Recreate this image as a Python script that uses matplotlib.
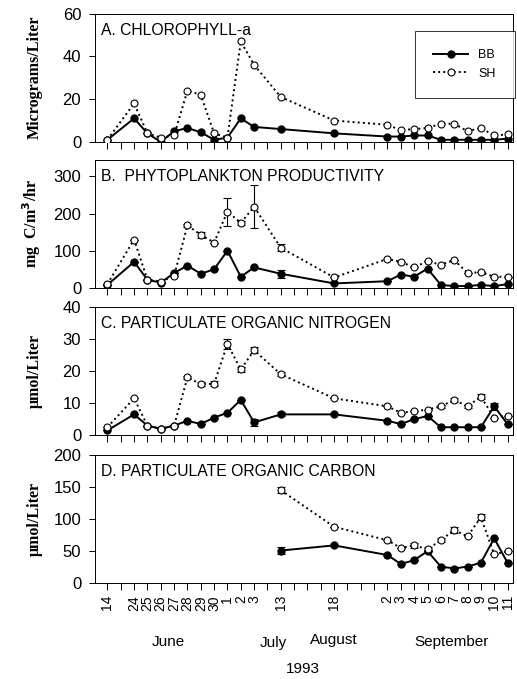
import numpy as np
import matplotlib
matplotlib.use("Agg")
import matplotlib.pyplot as plt

# sampling dates, placed on an evenly spaced (broken) time axis
date_labels = ["14", "24", "25", "26", "27", "28", "29", "30", "1", "2", "3",
               "13", "18", "2", "3", "4", "5", "6", "7", "8", "9", "10", "11"]
slot = [0, 2, 3, 4, 5, 6, 7, 8, 9, 10, 11, 13, 17,
        21, 22, 23, 24, 25, 26, 27, 28, 29, 30]
n_slots = 31

# A. chlorophyll-a
chl_bb = [1, 11, 4, 0, 5, 6.5, 4.5, 1, 2, 11, 7, 6, 4,
          2.5, 2.5, 3, 3, 1, 1, 1, 1, 1, 1.5]
chl_sh = [1, 18, 4, 2, 3, 24, 22, 4, 2, 47, 36, 21, 10,
          8, 5.5, 6, 6.5, 8.5, 8.5, 5, 6.5, 3, 3.5]

# B. phytoplankton productivity
prod_bb = [8, 70, 22, 14, 40, 60, 38, 50, 100, 30, 55, 38, 12,
           18, 36, 30, 52, 8, 5, 5, 8, 5, 10]
prod_sh = [10, 130, 22, 17, 32, 168, 143, 122, 205, 175, 218, 108, 28,
           78, 70, 55, 72, 62, 75, 40, 42, 30, 30]
prod_bb_err = [0, 0, 0, 0, 0, 0, 0, 0, 0, 0, 0, 11, 0,
               0, 0, 0, 0, 0, 0, 0, 0, 0, 0]
prod_sh_err = [0, 0, 0, 0, 0, 4, 8, 0, 38, 5, 58, 10, 0,
               0, 0, 0, 0, 0, 0, 0, 0, 0, 0]

# C. particulate organic nitrogen
pon_bb = [1.5, 6.5, 3, 2, 3, 4.5, 3.5, 5.5, 7, 11, 4, 6.5, 6.5,
          4.5, 3.5, 5, 6, 2.5, 2.5, 2.5, 2.5, 9, 3.5]
pon_sh = [2.5, 11.5, 3, 2, 3, 18, 16, 16, 28.5, 20.5, 26.5, 19, 11.5,
          9, 7, 7.5, 8, 9, 11, 9, 12, 5.5, 6]
pon_bb_err = [0, 0, 0, 0, 0, 0, 0, 0, 0, 0, 1.2, 0.6, 0,
              0, 0, 0, 0, 0, 0, 0, 0, 1.2, 0]
pon_sh_err = [0, 0, 0, 0, 0, 0.6, 0.5, 0.8, 1.5, 0.7, 1, 0.6, 0,
              0, 0, 0, 0, 0.5, 0.6, 0.5, 0.8, 0, 0]

# D. particulate organic carbon (starts 13 July)
poc_slot = slot[11:]
poc_bb = [51, 59, 44, 30, 36, 50, 26, 23, 26, 32, 70, 32]
poc_sh = [145, 88, 67, 55, 59, 53, 67, 83, 73, 103, 45, 50]
poc_bb_err = [5, 0, 0, 0, 0, 0, 0, 0, 0, 0, 0, 0]
poc_sh_err = [5, 0, 0, 0, 4, 3, 3, 4, 0, 5, 0, 0]

panels = [
    ("A. CHLOROPHYLL-a", "Micrograms/Liter", (0, 60), [0, 20, 40, 60],
     slot, chl_bb, chl_sh, None, None),
    ("B.  PHYTOPLANKTON PRODUCTIVITY", "mg  C/m$^\\mathbf{3}$/hr", (0, 345), [0, 100, 200, 300],
     slot, prod_bb, prod_sh, prod_bb_err, prod_sh_err),
    ("C. PARTICULATE ORGANIC NITROGEN", "\u03bcmol/Liter", (0, 40), [0, 10, 20, 30, 40],
     slot, pon_bb, pon_sh, pon_bb_err, pon_sh_err),
    ("D. PARTICULATE ORGANIC CARBON", "\u03bcmol/Liter", (0, 200), [0, 50, 100, 150, 200],
     poc_slot, poc_bb, poc_sh, poc_bb_err, poc_sh_err),
]

plt.rcParams['font.family'] = ['Liberation Sans', 'DejaVu Sans']

fig = plt.figure(figsize=(5.17, 6.79), dpi=100)
left, width = 0.184, 0.808
bottoms = [0.791, 0.576, 0.359, 0.141]
height = 0.189

tick_labels = [""] * n_slots
for s, lab in zip(slot, date_labels):
    tick_labels[s] = lab

for i, (title, ylab, ylim, yticks, xs, bb, sh, bb_err, sh_err) in enumerate(panels):
    ax = fig.add_axes([left, bottoms[i], width, height])
    ax.plot(xs, bb, ls='-', color='black', lw=1.4, marker='o', ms=5,
            mfc='black', mec='black', label='BB', zorder=3)
    ax.plot(xs, sh, ls=':', color='black', lw=1.4, marker='o', ms=5,
            mfc='white', mec='black', mew=0.8, label='SH', zorder=4)
    if sh_err is not None:
        ax.errorbar(xs, sh, yerr=sh_err, fmt='none', ecolor='black',
                    elinewidth=0.8, capsize=3, capthick=0.8, zorder=2)
        ax.errorbar(xs, bb, yerr=bb_err, fmt='none', ecolor='black',
                    elinewidth=0.8, capsize=3, capthick=0.8, zorder=2)
    ax.set_xlim(-0.92, 30.4)
    ax.set_ylim(*ylim)
    ax.set_yticks(yticks)
    ax.set_xticks(range(n_slots))
    ax.tick_params(axis='both', direction='out', length=4, width=0.7, labelsize=12)
    ax.tick_params(axis='y', pad=6)
    ax.tick_params(axis='x', length=5)
    if i == 3:
        ax.set_xticklabels(tick_labels, rotation=90, fontsize=10)
    else:
        ax.set_xticklabels([])
    for sp in ax.spines.values():
        sp.set_linewidth(0.7)
    ax.text(0.015, 0.93, title, transform=ax.transAxes, fontsize=11.3,
            va='top', ha='left')
    ax.set_ylabel(ylab, family='Liberation Serif', fontweight='bold',
                  fontsize=11.5)
    ax.yaxis.set_label_coords(-0.125, 0.5)
    if i == 0:
        leg = ax.legend(loc='upper left',
                        bbox_to_anchor=(0.75, 0.915), fontsize=9,
                        frameon=True, fancybox=False, borderpad=1.5,
                        handlelength=2.8, labelspacing=0.5, edgecolor='black')
        leg.get_frame().set_linewidth(0.7)

fig.text(168 / 517, 1 - 642 / 679, "June", ha='center', va='center', fontsize=11)
fig.text(273 / 517, 1 - 643 / 679, "July", ha='center', va='center', fontsize=11)
fig.text(334 / 517, 1 - 640 / 679, "August", ha='center', va='center', fontsize=11)
fig.text(452 / 517, 1 - 642 / 679, "September", ha='center', va='center', fontsize=11)
fig.text(303 / 517, 1 - 669 / 679, "1993", ha='center', va='center', fontsize=11)

fig.savefig("out.png", dpi=100)
